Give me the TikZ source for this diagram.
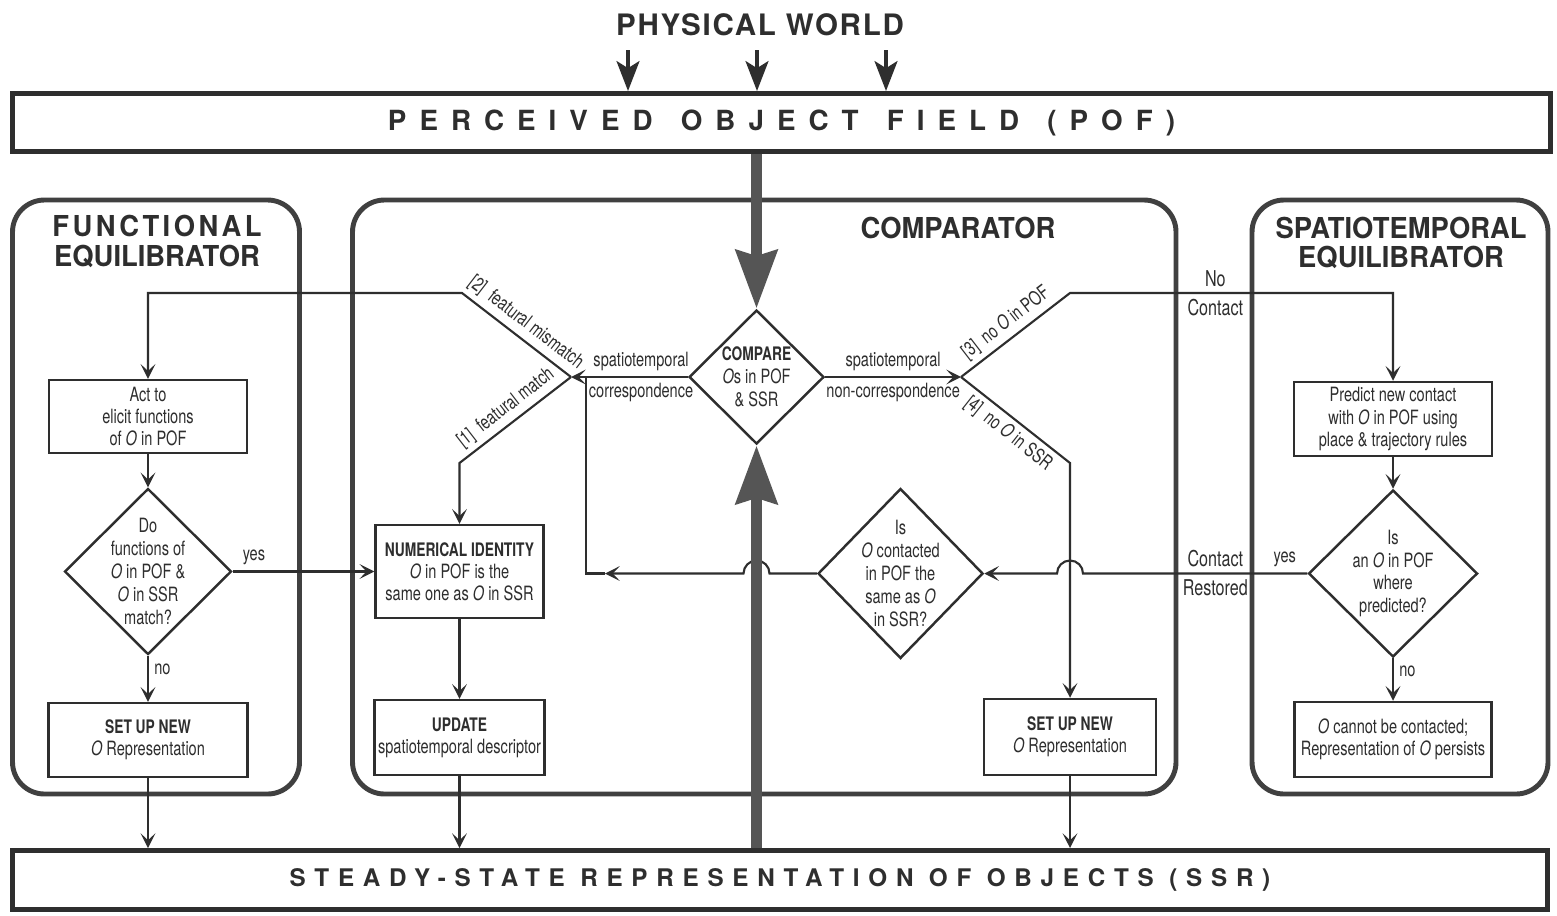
\documentclass[tikz,border=0pt]{standalone}
\usepackage{fontspec}
\setmainfont{TeX Gyre Heros}
\newfontfamily\condfam[FakeStretch=0.74]{TeX Gyre Heros}
\newfontfamily\titlefam[FakeStretch=0.95]{TeX Gyre Heros}
\usetikzlibrary{arrows.meta,shapes.geometric,positioning}

\definecolor{ink}{HTML}{2E2E2E}
\definecolor{frame}{HTML}{404040}
\definecolor{shaft}{HTML}{555555}

\newcommand{\obj}{\textit{O}}
\newcommand{\head}[1]{{\bfseries\fontsize{5.3}{6.3}\selectfont #1}}
\newcommand{\gap}{\hspace{8pt}}
\newcommand{\boxfont}{\condfam\fontsize{5.6}{6.3}\selectfont}
\newcommand{\askfont}{\condfam\fontsize{5.6}{6.5}\selectfont}
\newcommand{\lblfont}{\condfam\fontsize{5.6}{6.3}\selectfont}
\newcommand{\sidefont}{\condfam\fontsize{6.2}{7}\selectfont}
\newcommand{\panelfont}{\titlefam\bfseries\fontsize{8.2}{8.3}\selectfont}
\newcommand{\worldfont}{\bfseries\fontsize{8.4}{9}\selectfont\addfontfeature{LetterSpace=6}}

\begin{document}
\begin{tikzpicture}[
    panel/.style={draw=frame, line width=1.4pt, rounded corners=0.32cm},
    bar/.style={draw=ink, line width=1.3pt, inner sep=0, text=ink},
    box/.style={draw=ink, line width=0.7pt, inner sep=0, align=center, text=ink, font=\boxfont},
    decision/.style={diamond, draw=ink, line width=0.7pt, inner sep=0},
    question/.style={align=center, inner sep=0, text=ink, font=\askfont},
    flow/.style={draw=ink, line width=0.6pt},
    arr/.style={flow, -{Stealth[length=4.2pt,width=4.2pt,inset=2pt]}},
    lbl/.style={inner sep=1.5pt, text=ink, font=\lblfont},
    side/.style={inner sep=1.5pt, text=ink, font=\sidefont},
    title/.style={align=center, inner sep=0, text=ink, font=\panelfont},
    heavy/.style={draw=shaft, line width=3.4pt, -{Stealth[length=16.5pt,width=11.5pt,inset=1.5pt]}},
    world/.style={draw=ink, line width=1.1pt, -{Stealth[length=8.5pt,width=6.5pt,inset=2pt]}}
  ]
  \fill[white] (0,0) rectangle (15.57,-9.15);
  \useasboundingbox (0,0) rectangle (15.57,-9.15);

  % top and bottom bars
  \node[font=\worldfont, text=ink, inner sep=0] (world) at (7.60,-0.25) {PHYSICAL WORLD};
  \node[bar, minimum width=15.38cm, minimum height=0.584cm] (pof) at (7.815,-1.225)
    {\bfseries\fontsize{7.9}{8}\selectfont\addfontfeature{LetterSpace=47}PERCEIVED\gap OBJECT\gap FIELD\gap (POF)};
  \node[bar, minimum width=15.354cm, minimum height=0.594cm] (ssr) at (7.80,-8.80)
    {\bfseries\fontsize{6.9}{8}\selectfont\addfontfeature{LetterSpace=36}STEADY-STATE REPRESENTATION OF OBJECTS (SSR)};
  \foreach \x [count=\i] in {6.28,7.57,8.86}{
    \coordinate (w\i) at (\x,-0.50);
    \draw[world] (w\i) -- (w\i |- pof.north);
  }

  % the three panels
  \draw[panel] (0.125,-2.0) rectangle (2.995,-7.94);
  \draw[panel] (3.525,-2.0) rectangle (11.76,-7.94);
  \draw[panel] (12.52,-2.0) rectangle (15.48,-7.94);
  \node[title] (fe) at (1.57,-2.415) {{\addfontfeature{LetterSpace=12}FUNCTIONAL}\\EQUILIBRATOR};
  \node[title] (ct) at (9.58,-2.28) {COMPARATOR};
  \node[title] (se) at (14.01,-2.43) {SPATIOTEMPORAL\\EQUILIBRATOR};

  % functional equilibrator
  \node[box, minimum width=1.98cm, minimum height=0.73cm] (act) at (1.48,-4.165) {Act to\\elicit functions\\of \obj{} in POF};
  \node[decision, minimum width=1.67cm, minimum height=1.66cm] (fd) at (1.48,-5.715) {};
  \node[question] (fdq) at (fd) {Do\\functions of\\\obj{} in POF \&\\\obj{} in SSR\\match?};
  \node[box, minimum width=1.99cm, minimum height=0.74cm] (setl) at (1.48,-7.40) {\head{SET UP NEW}\\\obj{} Representation};

  % comparator
  \node[decision, minimum width=1.35cm, minimum height=1.34cm] (cmp) at (7.565,-3.77) {};
  \node[question] (cmpq) at (cmp) {\head{COMPARE}\\\obj{}s in POF\\\& SSR};
  \node[box, minimum width=1.68cm, minimum height=0.93cm] (ni) at (4.595,-5.715) {\head{NUMERICAL IDENTITY}\\\obj{} in POF is the\\same one as \obj{} in SSR};
  \node[box, minimum width=1.70cm, minimum height=0.75cm] (upd) at (4.595,-7.375) {\head{UPDATE}\\spatiotemporal descriptor};
  \node[decision, minimum width=1.65cm, minimum height=1.70cm] (cont) at (9.005,-5.735) {};
  \node[question] (contq) at (cont) {Is\\\obj{} contacted\\in POF the\\same as \obj{}\\in SSR?};
  \node[box, minimum width=1.72cm, minimum height=0.76cm] (setr) at (10.70,-7.37) {\head{SET UP NEW}\\\obj{} Representation};

  % spatiotemporal equilibrator
  \node[box, minimum width=1.98cm, minimum height=0.74cm] (pred) at (13.93,-4.19) {Predict new contact\\with \obj{} in POF using\\place \& trajectory rules};
  \node[decision, minimum width=1.69cm, minimum height=1.67cm] (wd) at (13.93,-5.735) {};
  \node[question] (wdq) at (wd) {Is\\an \obj{} in POF\\where\\predicted?};
  \node[box, minimum width=1.97cm, minimum height=0.75cm] (pers) at (13.93,-7.395) {\obj{} cannot be contacted;\\Representation of \obj{} persists};

  % branch points
  \coordinate (jl) at (5.71,-3.77);
  \coordinate (mm) at (4.62,-2.93);
  \coordinate (fm) at (4.595,-4.63);
  \coordinate (jr) at (9.61,-3.77);
  \coordinate (np) at (10.70,-2.93);
  \coordinate (ns) at (10.70,-4.63);
  \coordinate (hopr) at (10.70,-5.735);
  \coordinate (hopc) at (7.565,-5.735);
  \coordinate (ret) at (6.05,-5.735);
  \coordinate (rb) at (5.86,-5.735);

  % left side of the comparator
  \draw[arr] (cmp) -- node[lbl,above,pos=0.4]{spatiotemporal} node[lbl,below,pos=0.4]{correspondence} (jl);
  \draw[arr] (jl) -- (mm) -| (act.north);
  \path (mm) -- node[lbl,sloped,above]{[2]\ \ featural mismatch} (jl);
  \draw[arr] (jl) -- (fm) -- (ni.north);
  \path (fm) -- node[lbl,sloped,above]{[1]\ \ featural match} (jl);
  \draw[arr] (ni) -- (upd);
  \draw[arr] (upd) -- (upd.south |- ssr.north);

  % right side of the comparator
  \draw[arr] (cmp) -- node[lbl,above]{spatiotemporal} node[lbl,below]{non-correspondence} (jr);
  \draw[arr] (jr) -- (np) -- node[side,above,pos=0.45]{No} node[side,below,pos=0.45]{Contact} (np -| pred.north) -- (pred.north);
  \path (jr) -- node[lbl,sloped,above]{[3]\ \ no \obj{} in POF} (np);
  \draw[arr] (jr) -- (ns) -- (setr.north);
  \path (jr) -- node[lbl,sloped,below,pos=0.52]{[4]\ \ no \obj{} in SSR} (ns);
  \draw[arr] (setr) -- (setr.south |- ssr.north);

  % functional loop
  \draw[arr] (act) -- (fd);
  \draw[arr] (fd) -- node[lbl,above,pos=0.15]{yes} (ni);
  \draw[arr] (fd) -- node[lbl,right,pos=0.3]{no} (setl);
  \draw[arr] (setl) -- (setl.south |- ssr.north);

  % spatiotemporal loop
  \draw[arr] (pred) -- (wd);
  \draw[arr] (wd) -- node[lbl,right,pos=0.3]{no} (pers);
  \draw[arr] (wd.west) -- node[lbl,above,pos=0.1]{yes} node[side,above,pos=0.41]{Contact} node[side,below,pos=0.41]{Restored}
    ([xshift=1.3mm]hopr) arc[start angle=0,end angle=180,radius=1.3mm] -- (cont.east);
  \draw[arr] (cont.west) -- ([xshift=1.3mm]hopc) arc[start angle=0,end angle=180,radius=1.3mm] -- (ret);
  \draw[flow] (ret) -- (rb) -- (rb |- jl);

  % heavy arrows into the comparator
  \draw[heavy] (pof.south -| cmp.north) -- (cmp.north);
  \draw[heavy] (ssr.north -| cmp.south) -- (cmp.south);
\end{tikzpicture}
\end{document}
